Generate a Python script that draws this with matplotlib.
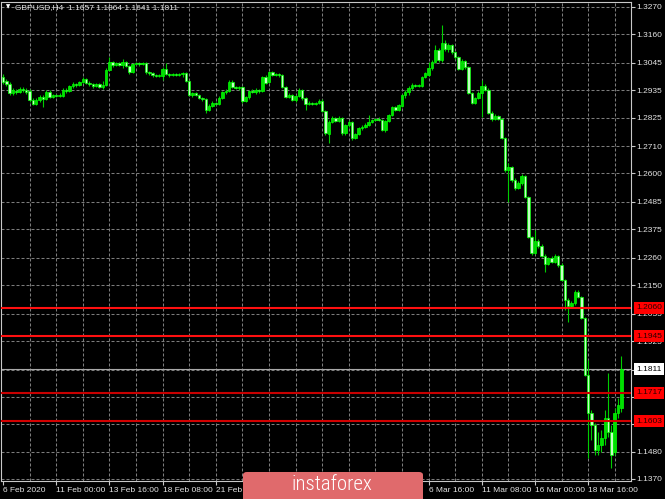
import matplotlib
matplotlib.use("Agg")
import matplotlib.pyplot as plt
from matplotlib.patches import FancyBboxPatch
from matplotlib.transforms import blended_transform_factory
import numpy as np

symbol = "GBPUSD,H4"

opens = [1.2988, 1.2972, 1.2960, 1.2924, 1.2932, 1.2928, 1.2940, 1.2936, 1.2932, 1.2896,
         1.2879, 1.2896, 1.2908, 1.2900, 1.2928, 1.2908, 1.2916, 1.2912, 1.2912, 1.2936,
         1.2932, 1.2952, 1.2960, 1.2956, 1.2968, 1.2980, 1.2964, 1.2960, 1.2952, 1.2960,
         1.2948, 1.2956, 1.3016, 1.3049, 1.3037, 1.3045, 1.3037, 1.3049, 1.3032, 1.3008,
         1.3041, 1.3045, 1.3041, 1.3045, 1.3008, 1.3004, 1.2996, 1.2992, 1.2992, 1.3020,
         1.3000, 1.2996, 1.3000, 1.2996, 1.3000, 1.3004, 1.2972, 1.2916, 1.2924, 1.2916,
         1.2904, 1.2900, 1.2855, 1.2871, 1.2884, 1.2879, 1.2904, 1.2928, 1.2932, 1.2968,
         1.2948, 1.2944, 1.2948, 1.2892, 1.2908, 1.2932, 1.2928, 1.2936, 1.2932, 1.2988,
         1.2968, 1.3008, 1.2996, 1.3000, 1.2996, 1.2948, 1.2908, 1.2916, 1.2896, 1.2912,
         1.2936, 1.2904, 1.2879, 1.2884, 1.2879, 1.2884, 1.2892, 1.2851, 1.2759, 1.2807,
         1.2823, 1.2811, 1.2823, 1.2763, 1.2795, 1.2807, 1.2743, 1.2759, 1.2783, 1.2787,
         1.2795, 1.2807, 1.2815, 1.2819, 1.2815, 1.2775, 1.2811, 1.2835, 1.2867, 1.2855,
         1.2871, 1.2916, 1.2928, 1.2944, 1.2956, 1.2952, 1.2952, 1.2988, 1.2996, 1.3024,
         1.3049, 1.3097, 1.3057, 1.3125, 1.3101, 1.3117, 1.3089, 1.3069, 1.3020, 1.3053,
         1.3028, 1.2924, 1.2884, 1.2904, 1.2924, 1.2952, 1.2936, 1.2843, 1.2819, 1.2831,
         1.2819, 1.2743, 1.2614, 1.2626, 1.2574, 1.2541, 1.2561, 1.2590, 1.2505, 1.2344,
         1.2280, 1.2328, 1.2308, 1.2268, 1.2235, 1.2260, 1.2243, 1.2268, 1.2231, 1.2171,
         1.2090, 1.2066, 1.2078, 1.2123, 1.2103, 1.2018, 1.1789, 1.1636, 1.1587, 1.1487,
         1.1507, 1.1535, 1.1615, 1.1559, 1.1479, 1.1636, 1.1657]

highs = [1.3000, 1.2980, 1.2968, 1.2944, 1.2940, 1.2948, 1.2948, 1.2944, 1.2940, 1.2904,
         1.2904, 1.2916, 1.2916, 1.2936, 1.2936, 1.2920, 1.2920, 1.2924, 1.2944, 1.2944,
         1.2956, 1.2968, 1.2964, 1.2972, 1.2988, 1.2984, 1.2972, 1.2964, 1.2964, 1.2964,
         1.2972, 1.3024, 1.3069, 1.3053, 1.3049, 1.3049, 1.3061, 1.3053, 1.3037, 1.3045,
         1.3049, 1.3049, 1.3049, 1.3049, 1.3012, 1.3008, 1.3000, 1.3000, 1.3028, 1.3045,
         1.3004, 1.3004, 1.3004, 1.3004, 1.3008, 1.3008, 1.2976, 1.2928, 1.2928, 1.2920,
         1.2908, 1.2904, 1.2879, 1.2892, 1.2888, 1.2912, 1.2932, 1.2940, 1.2976, 1.2976,
         1.2952, 1.2952, 1.2952, 1.2912, 1.2936, 1.2940, 1.2944, 1.2940, 1.2992, 1.2996,
         1.3012, 1.3012, 1.3004, 1.3004, 1.3000, 1.2952, 1.2924, 1.2920, 1.2916, 1.2944,
         1.2940, 1.2908, 1.2892, 1.2888, 1.2888, 1.2900, 1.2900, 1.2855, 1.2815, 1.2831,
         1.2827, 1.2831, 1.2827, 1.2799, 1.2815, 1.2811, 1.2763, 1.2787, 1.2795, 1.2803,
         1.2835, 1.2819, 1.2823, 1.2827, 1.2819, 1.2815, 1.2839, 1.2871, 1.2871, 1.2879,
         1.2920, 1.2936, 1.2952, 1.2964, 1.2960, 1.2960, 1.2992, 1.3008, 1.3049, 1.3057,
         1.3117, 1.3105, 1.3198, 1.3137, 1.3125, 1.3121, 1.3093, 1.3073, 1.3061, 1.3057,
         1.3032, 1.2928, 1.2908, 1.2932, 1.2976, 1.2960, 1.2944, 1.2851, 1.2839, 1.2835,
         1.2823, 1.2747, 1.2642, 1.2630, 1.2582, 1.2570, 1.2598, 1.2594, 1.2509, 1.2348,
         1.2372, 1.2336, 1.2316, 1.2276, 1.2264, 1.2268, 1.2276, 1.2272, 1.2239, 1.2175,
         1.2099, 1.2086, 1.2131, 1.2131, 1.2107, 1.2022, 1.1849, 1.1648, 1.1595, 1.1559,
         1.1567, 1.1648, 1.1797, 1.1587, 1.1656, 1.1696, 1.1864]

lows = [1.2960, 1.2952, 1.2916, 1.2916, 1.2920, 1.2924, 1.2928, 1.2920, 1.2888, 1.2875,
        1.2875, 1.2888, 1.2867, 1.2896, 1.2904, 1.2904, 1.2908, 1.2908, 1.2908, 1.2924,
        1.2928, 1.2944, 1.2948, 1.2952, 1.2964, 1.2960, 1.2952, 1.2944, 1.2948, 1.2944,
        1.2940, 1.2952, 1.3012, 1.3028, 1.3032, 1.3032, 1.3024, 1.3028, 1.3000, 1.3004,
        1.3037, 1.3032, 1.3037, 1.3000, 1.2996, 1.2988, 1.2988, 1.2988, 1.2976, 1.2996,
        1.2988, 1.2992, 1.2992, 1.2992, 1.2988, 1.2968, 1.2912, 1.2908, 1.2912, 1.2900,
        1.2892, 1.2843, 1.2851, 1.2867, 1.2875, 1.2875, 1.2900, 1.2920, 1.2928, 1.2944,
        1.2940, 1.2936, 1.2884, 1.2888, 1.2900, 1.2924, 1.2920, 1.2924, 1.2928, 1.2960,
        1.2964, 1.2992, 1.2992, 1.2988, 1.2944, 1.2904, 1.2904, 1.2892, 1.2888, 1.2908,
        1.2896, 1.2855, 1.2875, 1.2875, 1.2875, 1.2879, 1.2847, 1.2755, 1.2722, 1.2803,
        1.2807, 1.2807, 1.2755, 1.2755, 1.2787, 1.2735, 1.2739, 1.2755, 1.2775, 1.2783,
        1.2791, 1.2803, 1.2811, 1.2811, 1.2771, 1.2767, 1.2807, 1.2831, 1.2851, 1.2851,
        1.2867, 1.2904, 1.2916, 1.2936, 1.2948, 1.2948, 1.2948, 1.2984, 1.2992, 1.3016,
        1.3045, 1.3049, 1.3049, 1.3093, 1.3089, 1.3081, 1.3061, 1.3016, 1.3016, 1.3020,
        1.2920, 1.2879, 1.2879, 1.2900, 1.2827, 1.2932, 1.2839, 1.2811, 1.2815, 1.2815,
        1.2739, 1.2606, 1.2485, 1.2565, 1.2533, 1.2537, 1.2553, 1.2501, 1.2340, 1.2272,
        1.2276, 1.2300, 1.2264, 1.2203, 1.2231, 1.2239, 1.2239, 1.2223, 1.2167, 1.2050,
        1.2002, 1.2058, 1.2070, 1.2099, 1.2014, 1.1785, 1.1454, 1.1527, 1.1467, 1.1467,
        1.1479, 1.1507, 1.1539, 1.1414, 1.1467, 1.1615, 1.1641]

closes = [1.2968, 1.2960, 1.2924, 1.2936, 1.2928, 1.2940, 1.2936, 1.2928, 1.2896, 1.2879,
          1.2896, 1.2908, 1.2900, 1.2928, 1.2908, 1.2916, 1.2912, 1.2916, 1.2936, 1.2932,
          1.2952, 1.2960, 1.2956, 1.2968, 1.2980, 1.2964, 1.2960, 1.2952, 1.2960, 1.2948,
          1.2956, 1.3016, 1.3049, 1.3037, 1.3045, 1.3037, 1.3049, 1.3032, 1.3008, 1.3041,
          1.3045, 1.3041, 1.3045, 1.3008, 1.3004, 1.2996, 1.2992, 1.2996, 1.3020, 1.3000,
          1.2996, 1.3000, 1.2996, 1.3000, 1.3004, 1.2972, 1.2916, 1.2924, 1.2916, 1.2904,
          1.2900, 1.2855, 1.2871, 1.2884, 1.2879, 1.2904, 1.2928, 1.2932, 1.2968, 1.2948,
          1.2944, 1.2948, 1.2892, 1.2908, 1.2932, 1.2928, 1.2936, 1.2932, 1.2988, 1.2964,
          1.3008, 1.2996, 1.3000, 1.2996, 1.2948, 1.2908, 1.2916, 1.2896, 1.2912, 1.2936,
          1.2904, 1.2879, 1.2884, 1.2879, 1.2884, 1.2892, 1.2851, 1.2763, 1.2807, 1.2823,
          1.2811, 1.2823, 1.2763, 1.2795, 1.2807, 1.2743, 1.2759, 1.2783, 1.2787, 1.2795,
          1.2807, 1.2815, 1.2819, 1.2815, 1.2775, 1.2811, 1.2835, 1.2867, 1.2855, 1.2875,
          1.2916, 1.2928, 1.2944, 1.2956, 1.2952, 1.2956, 1.2988, 1.3004, 1.3024, 1.3049,
          1.3097, 1.3057, 1.3125, 1.3101, 1.3117, 1.3089, 1.3069, 1.3020, 1.3053, 1.3028,
          1.2924, 1.2884, 1.2904, 1.2924, 1.2952, 1.2936, 1.2843, 1.2819, 1.2831, 1.2819,
          1.2743, 1.2614, 1.2626, 1.2574, 1.2541, 1.2561, 1.2590, 1.2505, 1.2344, 1.2280,
          1.2328, 1.2308, 1.2268, 1.2235, 1.2260, 1.2243, 1.2268, 1.2231, 1.2171, 1.2090,
          1.2066, 1.2078, 1.2123, 1.2103, 1.2018, 1.1789, 1.1636, 1.1587, 1.1487, 1.1507,
          1.1535, 1.1615, 1.1559, 1.1467, 1.1636, 1.1668, 1.1811]

# price scale ticks (1.1810 sits under the bid-price label in the original)
price_ticks = [1.3270, 1.3160, 1.3045, 1.2935, 1.2825, 1.2710, 1.2600, 1.2485, 1.2375,
               1.2260, 1.2150, 1.2035, 1.1925, 1.1810, 1.1700, 1.1590, 1.1480, 1.1370]
hidden_price_labels = [1.1810]
# time scale labels; the ones under the watermark are not visible in the original
time_labels = ["6 Feb 2020", "11 Feb 00:00", "13 Feb 16:00", "18 Feb 08:00", "21 Feb 00:00",
               "", "", "", "6 Mar 16:00", "11 Mar 08:00", "16 Mar 00:00", "18 Mar 16:00"]
bars_per_label = 16
bars_per_grid = 8
red_levels = [1.2060, 1.1945, 1.1717, 1.1603]
bid_price = closes[-1]

W, H = 665, 499
fig = plt.figure(figsize=(W / 100, H / 100), dpi=100, facecolor="black")
ax = fig.add_axes([1 / W, (H - 481) / H, 630 / W, 479 / H], facecolor="black")

FONT = ["Liberation Sans", "DejaVu Sans"]
TXT = "#e4e4e4"

o = np.array(opens); h = np.array(highs); l = np.array(lows); c = np.array(closes)
n = len(o)
x = np.arange(n)

ax.set_xlim(-0.6, 188.9)
ax.set_ylim(1.13618, 1.32901)

# grid
for p in price_ticks:
    ax.axhline(p, color="#7c7c7c", lw=0.75, ls=(0, (2.9, 1.9)), zorder=1)
for b in range(bars_per_grid, n, bars_per_grid):
    ax.axvline(b, color="#7c7c7c", lw=0.75, ls=(0, (2.9, 1.9)), zorder=1)

# bid line
ax.axhline(bid_price, color="#a8a8a8", lw=0.8, zorder=2)

# candles
bull = c >= o
ax.vlines(x, l, h, color="#00cc00", lw=0.8, zorder=3)
body_h = np.maximum(np.abs(c - o), 0.00010)
ax.bar(x, body_h, bottom=np.minimum(o, c), width=0.74,
       color=np.where(bull, "#00e000", "#c4ffc4"), edgecolor="#00ff00",
       linewidth=0.5, zorder=4)

# horizontal levels
level_cols = ["#ff1010", "#ff1010", "#c80000", "#d40000"]
for lv, col in zip(red_levels, level_cols):
    ax.axhline(lv, color=col, lw=1.5, zorder=5)

# axes styling
for s in ax.spines.values():
    s.set_color("#c8c8c8")
    s.set_linewidth(0.8)
ax.yaxis.tick_right()
ax.set_yticks(price_ticks)
ax.set_yticklabels(["" if p in hidden_price_labels else f"{p:.4f}" for p in price_ticks])
ax.tick_params(axis="y", colors="#c8c8c8", length=3, width=0.8, pad=1.0,
               labelsize=6, labelcolor=TXT)
ax.set_xticks(range(0, bars_per_label * len(time_labels), bars_per_label))
ax.set_xticklabels(time_labels, ha="left")
ax.tick_params(axis="x", colors="#c8c8c8", length=3, width=0.8, pad=1.5,
               labelsize=6, labelcolor=TXT)
for t in ax.get_xticklabels() + ax.get_yticklabels():
    t.set_family(FONT)

# right-side level labels
tr = blended_transform_factory(ax.transAxes, ax.transData)
for lv, col in zip(red_levels, level_cols):
    ax.text(1.008, lv, f"{lv:.4f}", transform=tr, ha="left", va="center",
            fontsize=6, family=FONT, color="#2a0000", clip_on=False, zorder=20,
            bbox=dict(boxstyle="square,pad=0.3", fc="#ff0000", ec="none"))
ax.text(1.008, bid_price, f"{bid_price:.4f}", transform=tr, ha="left", va="center",
        fontsize=6, family=FONT, color="black", clip_on=False, zorder=20,
        bbox=dict(boxstyle="square,pad=0.3", fc="white", ec="none"))

# header
fig.text(6 / W, 1 - 7 / H, "\u25BC", fontsize=4, color="white", va="center", ha="left",
         family=["DejaVu Sans"])
fig.text(15 / W, 1 - 7.5 / H,
         f"{symbol}  {opens[-1]:.4f} {highs[-1]:.4f} {lows[-1]:.4f} {closes[-1]:.4f}",
         fontsize=6, color=TXT, va="center", ha="left", family=FONT)

# watermark
fig.add_artist(FancyBboxPatch((243 / W, -0.01), 180 / W, 32 / H,
                              boxstyle="round,pad=0,rounding_size=0.006",
                              transform=fig.transFigure, fc="#e06a6c", ec="none",
                              zorder=30))
fig.text(332 / W, (H - 490) / H, "instaforex", fontsize=15, color="white",
         ha="center", va="baseline", zorder=31, fontweight="light",
         family=["Liberation Sans Narrow", "Roboto Condensed", "Liberation Sans"])

fig.savefig("out.png", dpi=100, facecolor="black")
